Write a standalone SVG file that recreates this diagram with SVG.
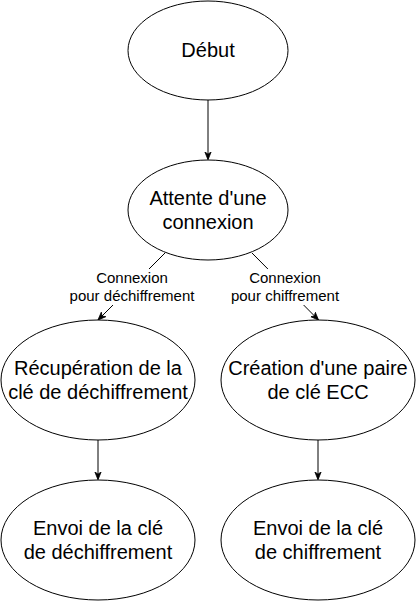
<svg xmlns="http://www.w3.org/2000/svg" width="416" height="601" viewBox="0 0 416 601">
<defs>
<marker id="arr" viewBox="0 0 10 10" refX="9" refY="5" markerWidth="8" markerHeight="8" markerUnits="userSpaceOnUse" orient="auto">
<path d="M0,1 L10,5 L0,9 L3,5 Z" fill="#000" stroke="#000" stroke-width="1"/>
</marker>
<style>
.node{fill:#fff;stroke:#000;stroke-width:1}
.t{font-family:"Liberation Sans",Arial,sans-serif;font-size:20px;fill:#000;text-anchor:middle}
.l{font-family:"Liberation Sans",Arial,sans-serif;font-size:15px;fill:#000;text-anchor:middle}
.e{fill:none;stroke:#000;stroke-width:1}
</style>
</defs>
<rect width="416" height="601" fill="#fff"/>
<g id="connectors">
<path class="e" d="M208,100 L208,159" marker-end="url(#arr)"/>
<path class="e" d="M165,253 L98.5,319.5" marker-end="url(#arr)"/>
<path class="e" d="M252,253 L318,319.5" marker-end="url(#arr)"/>
<path class="e" d="M98,440 L98,479" marker-end="url(#arr)"/>
<path class="e" d="M318,440 L318,479" marker-end="url(#arr)"/>
<g id="label-dechiffrement">
<rect x="68" y="269" width="130" height="36" fill="#fff"/>
<text class="l" x="132" y="283">Connexion</text>
<text class="l" x="132" y="301">pour déchiffrement</text>
</g>
<g id="label-chiffrement">
<rect x="226" y="269" width="118" height="36" fill="#fff"/>
<text class="l" x="285" y="283">Connexion</text>
<text class="l" x="285" y="301">pour chiffrement</text>
</g>
</g>
<g id="debut">
<ellipse class="node" cx="208" cy="50.5" rx="80" ry="49.5"/>
<text class="t" x="208" y="57">Début</text>
</g>
<g id="attente">
<ellipse class="node" cx="208" cy="210" rx="80" ry="50"/>
<text class="t" x="208" y="205">Attente d'une</text>
<text class="t" x="208" y="229">connexion</text>
</g>
<g id="recuperation">
<ellipse class="node" cx="98" cy="380" rx="97" ry="60"/>
<text class="t" x="98" y="375">Récupération de la</text>
<text class="t" x="98" y="399">clé de déchiffrement</text>
</g>
<g id="creation">
<ellipse class="node" cx="318" cy="380" rx="97" ry="60"/>
<text class="t" x="318" y="375">Création d'une paire</text>
<text class="t" x="318" y="399">de clé ECC</text>
</g>
<g id="envoi-dechiffrement">
<ellipse class="node" cx="98" cy="540" rx="97" ry="60"/>
<text class="t" x="98" y="535">Envoi de la clé</text>
<text class="t" x="98" y="559">de déchiffrement</text>
</g>
<g id="envoi-chiffrement">
<ellipse class="node" cx="318" cy="540" rx="97" ry="60"/>
<text class="t" x="318" y="535">Envoi de la clé</text>
<text class="t" x="318" y="559">de chiffrement</text>
</g>
</svg>
